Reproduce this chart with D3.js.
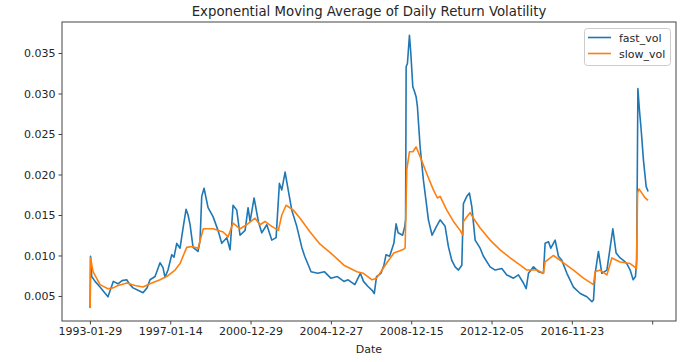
<!DOCTYPE html>
<html>
<head>
<meta charset="utf-8">
<title>EMA volatility</title>
<script src="https://cdnjs.cloudflare.com/ajax/libs/d3/7.8.5/d3.min.js"></script>
<style>
  body { margin: 0; background: #fff; }
  svg text { font-family: "DejaVu Sans", sans-serif; fill: #262626; }
  .axis path, .axis line { stroke: #444; }
</style>
</head>
<body>
<div id="chart"></div>
<script>
// trading-day positions of the x ticks and their labels (last tick has no label)
var tickDays = [0, 1000, 2000, 3000, 4000, 5000, 6000, 7000];
var tickLabels = ["1993-01-29", "1997-01-14", "2000-12-29", "2004-12-27",
                  "2008-12-15", "2012-12-05", "2016-11-23", ""];
var yTicks = [0.005, 0.010, 0.015, 0.020, 0.025, 0.030, 0.035];
var lastDay = 6949;

// fast_vol (trading day index, value)
var fastDay = [0, 3, 8, 22, 64, 126, 176, 225, 291, 350, 400, 458, 499, 537, 599, 661, 711, 748,
  811, 873, 910, 935, 972, 1019, 1047, 1081, 1122, 1163, 1197, 1222, 1247, 1284, 1346, 1371,
  1392, 1421, 1471, 1533, 1595, 1641, 1704, 1745, 1782, 1828, 1869, 1932, 1969, 1994, 2044,
  2097, 2139, 2202, 2264, 2318, 2359, 2389, 2430, 2458, 2513, 2575, 2638, 2674, 2753, 2837,
  2918, 2999, 3081, 3162, 3214, 3298, 3367, 3406, 3459, 3513, 3540, 3568, 3623, 3660, 3687,
  3731, 3784, 3812, 3837, 3893, 3920, 3930, 3937, 3953, 3978, 3995, 4020, 4036, 4061, 4077,
  4111, 4152, 4194, 4214, 4260, 4310, 4360, 4422, 4463, 4505, 4547, 4588, 4630, 4650, 4692,
  4725, 4755, 4796, 4858, 4899, 4982, 5045, 5128, 5190, 5273, 5335, 5397, 5431, 5460, 5522,
  5584, 5646, 5667, 5709, 5738, 5792, 5833, 5875, 5938, 6020, 6104, 6187, 6249, 6269, 6290,
  6331, 6373, 6436, 6477, 6510, 6551, 6601, 6642, 6684, 6726, 6763, 6792, 6807, 6822, 6841,
  6863, 6891, 6925, 6949];
var fastVol = [0.0037, 0.0036, 0.0099, 0.0074, 0.0068, 0.0061, 0.0055, 0.0049, 0.0068, 0.0065,
  0.0069, 0.0070, 0.0064, 0.0060, 0.0057, 0.0054, 0.0060, 0.0070, 0.0074, 0.0091, 0.0085,
  0.0073, 0.0082, 0.0101, 0.0098, 0.0115, 0.0109, 0.0136, 0.0157, 0.0150, 0.0138, 0.0110,
  0.0105, 0.0118, 0.0173, 0.0183, 0.0159, 0.0148, 0.0131, 0.0115, 0.0122, 0.0107, 0.0162,
  0.0156, 0.0125, 0.0131, 0.0159, 0.0142, 0.0171, 0.0142, 0.0128, 0.0138, 0.0119, 0.0122,
  0.0189, 0.0181, 0.0203, 0.0187, 0.0156, 0.0136, 0.0110, 0.0099, 0.0080, 0.0078, 0.0080,
  0.0072, 0.0074, 0.0068, 0.0070, 0.0064, 0.0078, 0.0068, 0.0062, 0.0057, 0.0053, 0.0074,
  0.0078, 0.0088, 0.0101, 0.0099, 0.0115, 0.0139, 0.0128, 0.0125, 0.0136, 0.0144, 0.0333,
  0.0337, 0.0372, 0.0350, 0.0308, 0.0304, 0.0296, 0.0284, 0.0234, 0.0193, 0.0160, 0.0144,
  0.0125, 0.0135, 0.0144, 0.0136, 0.0111, 0.0094, 0.0086, 0.0082, 0.0088, 0.0164, 0.0173,
  0.0177, 0.0160, 0.0119, 0.0109, 0.0099, 0.0086, 0.0082, 0.0084, 0.0076, 0.0072, 0.0076,
  0.0066, 0.0059, 0.0078, 0.0086, 0.0080, 0.0078, 0.0115, 0.0117, 0.0109, 0.0119, 0.0099,
  0.0094, 0.0078, 0.0061, 0.0053, 0.0049, 0.0043, 0.0045, 0.0078, 0.0105, 0.0078, 0.0082,
  0.0110, 0.0133, 0.0103, 0.0097, 0.0094, 0.0090, 0.0082, 0.0070, 0.0074, 0.0094, 0.0306,
  0.0280, 0.0255, 0.0218, 0.0185, 0.0179];

// slow_vol
var slowDay = [0, 3, 8, 39, 126, 225, 288, 350, 462, 562, 661, 748, 873, 972, 1060, 1122, 1205,
  1271, 1346, 1412, 1533, 1658, 1720, 1782, 1869, 1953, 2056, 2118, 2180, 2264, 2346, 2389,
  2442, 2533, 2616, 2741, 2865, 2999, 3162, 3324, 3406, 3459, 3513, 3568, 3623, 3703, 3784,
  3893, 3924, 3945, 3978, 4020, 4061, 4111, 4194, 4276, 4326, 4360, 4443, 4526, 4609, 4643,
  4650, 4734, 4775, 4858, 4982, 5107, 5232, 5357, 5440, 5564, 5646, 5667, 5771, 5854, 6020,
  6144, 6269, 6290, 6352, 6436, 6498, 6601, 6726, 6804, 6818, 6835, 6872, 6913, 6949];
var slowVol = [0.0037, 0.0036, 0.0097, 0.0080, 0.0064, 0.0059, 0.0060, 0.0063, 0.0066, 0.0063,
  0.0061, 0.0065, 0.0070, 0.0075, 0.0082, 0.0090, 0.0110, 0.0111, 0.0109, 0.0133, 0.0133,
  0.0129, 0.0123, 0.0140, 0.0133, 0.0138, 0.0146, 0.0138, 0.0142, 0.0136, 0.0131, 0.0150,
  0.0162, 0.0156, 0.0146, 0.0129, 0.0114, 0.0103, 0.0088, 0.0080, 0.0078, 0.0074, 0.0070,
  0.0072, 0.0080, 0.0092, 0.0103, 0.0107, 0.0109, 0.0206, 0.0228, 0.0228, 0.0234, 0.0222,
  0.0201, 0.0181, 0.0171, 0.0173, 0.0156, 0.0142, 0.0131, 0.0125, 0.0142, 0.0153, 0.0146,
  0.0134, 0.0119, 0.0107, 0.0097, 0.0088, 0.0082, 0.0082, 0.0078, 0.0092, 0.0100, 0.0094,
  0.0082, 0.0072, 0.0064, 0.0080, 0.0082, 0.0076, 0.0097, 0.0092, 0.0090, 0.0084, 0.0177,
  0.0182, 0.0177, 0.0171, 0.0168];

var W = 682, H = 362;
var plotL = 62, plotR = 676, plotT = 22, plotB = 321;

var svg = d3.select("#chart").append("svg")
  .attr("width", W).attr("height", H);

var x = d3.scaleLinear()
  .domain([-0.05 * lastDay, 1.05 * lastDay])
  .range([plotL, plotR]);
var y = d3.scaleLinear()
  .domain([0.00191, 0.03883])
  .range([plotB, plotT]);

// axes
var xAxis = d3.axisBottom(x)
  .tickValues(tickDays)
  .tickSize(3.5)
  .tickPadding(3)
  .tickFormat(function(d, i) { return tickLabels[i]; });
var yAxis = d3.axisLeft(y)
  .tickValues(yTicks)
  .tickSize(3.5)
  .tickPadding(3)
  .tickFormat(d3.format(".3f"));

var gx = svg.append("g").attr("class", "axis")
  .attr("transform", "translate(0," + plotB + ")")
  .call(xAxis);
var gy = svg.append("g").attr("class", "axis")
  .attr("transform", "translate(" + plotL + ",0)")
  .call(yAxis);
gx.select(".domain").remove();
gy.select(".domain").remove();
svg.selectAll(".axis text")
  .attr("font-family", "DejaVu Sans, sans-serif")
  .attr("font-size", "11px")
  .attr("fill", "#262626");

// lines
var fastData = fastDay.map(function(d, i) { return [d, fastVol[i]]; });
var slowData = slowDay.map(function(d, i) { return [d, slowVol[i]]; });
var line = d3.line()
  .x(function(d) { return x(d[0]); })
  .y(function(d) { return y(d[1]); });

svg.append("path").datum(fastData)
  .attr("d", line)
  .attr("fill", "none")
  .attr("stroke", "#1f77b4")
  .attr("stroke-width", 1.6)
  .attr("stroke-linejoin", "round");
svg.append("path").datum(slowData)
  .attr("d", line)
  .attr("fill", "none")
  .attr("stroke", "#ff7f0e")
  .attr("stroke-width", 1.6)
  .attr("stroke-linejoin", "round");

// frame
svg.append("rect")
  .attr("x", plotL).attr("y", plotT)
  .attr("width", plotR - plotL).attr("height", plotB - plotT)
  .attr("fill", "none")
  .attr("stroke", "#444")
  .attr("stroke-width", 1);

// title and x label
svg.append("text")
  .attr("x", (plotL + plotR) / 2).attr("y", 16)
  .attr("text-anchor", "middle")
  .attr("font-size", "13.3px")
  .text("Exponential Moving Average of Daily Return Volatility");
svg.append("text")
  .attr("x", (plotL + plotR) / 2).attr("y", 353)
  .attr("text-anchor", "middle")
  .attr("font-size", "11px")
  .text("Date");

// legend
var lg = svg.append("g");
lg.append("rect")
  .attr("x", 584.5).attr("y", 28.5)
  .attr("width", 86).attr("height", 37)
  .attr("rx", 3)
  .attr("fill", "#fff")
  .attr("fill-opacity", 0.8)
  .attr("stroke", "#ccc");
var names = ["fast_vol", "slow_vol"];
var colors = ["#1f77b4", "#ff7f0e"];
names.forEach(function(n, i) {
  var ly = 37.5 + i * 16;
  lg.append("line")
    .attr("x1", 588).attr("x2", 611)
    .attr("y1", ly).attr("y2", ly)
    .attr("stroke", colors[i])
    .attr("stroke-width", 1.6);
  lg.append("text")
    .attr("x", 619).attr("y", ly + 4)
    .attr("font-size", "11px")
    .text(n);
});
</script>
</body>
</html>
